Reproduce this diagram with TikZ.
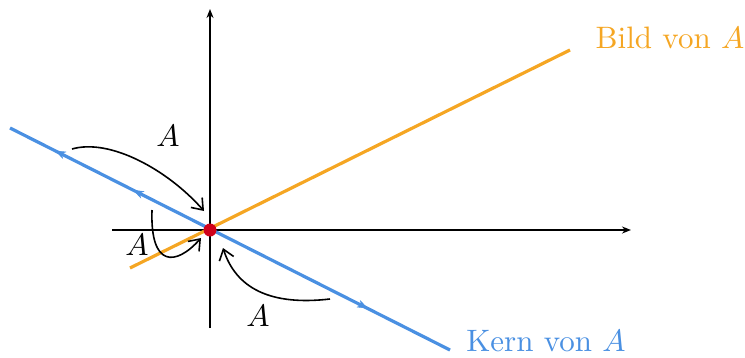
\documentclass[tikz,border=0pt]{standalone}
\usetikzlibrary{arrows.meta}
\definecolor{bildc}{HTML}{F5A623}
\definecolor{kernc}{HTML}{4A90E2}
\definecolor{dotc}{HTML}{D0021B}
\begin{document}
\begin{tikzpicture}[x=1pt,y=-1pt,
  axis/.style={line width=1.5pt,-{Stealth[length=9pt,width=7pt]}},
  mapto/.style={line width=1.6pt,-{Straight Barb[length=10pt,width=15pt,line width=1.6pt]}},
  lbl/.style={font=\fontsize{10}{12}\selectfont, inner sep=0pt, scale=3.1},
  tlbl/.style={font=\fontsize{10}{12}\selectfont, inner sep=0pt, scale=3.1},
  midarrow/.style={kernc,-{Stealth[length=11pt,width=8pt]}}]
\useasboundingbox (0,0) rectangle (745,357);
\coordinate (O) at (210,230);
% axes
\coordinate (xs) at (112,230); \coordinate (xe) at (631,230);
\coordinate (ys) at (210,328); \coordinate (ye) at (210,9);
\draw[axis] (xs) -- (xe);
\draw[axis] (ys) -- (ye);
% lines
\coordinate (k1) at (10,128); \coordinate (k2) at (450,350);
\coordinate (b1) at (130,268); \coordinate (b2) at (570,50);
\draw[kernc, line width=3.2pt] (k1) -- (k2);
\draw[bildc, line width=3.2pt] (b1) -- (b2);
% arrows on kernel line
\coordinate (m1s) at (70,158); \coordinate (m1e) at (55,150.5);
\coordinate (m2s) at (150,198.5); \coordinate (m2e) at (133,190);
\coordinate (m3s) at (350,299.5); \coordinate (m3e) at (368,308.5);
\draw[midarrow] (m1s) -- (m1e);
\draw[midarrow] (m2s) -- (m2e);
\draw[midarrow] (m3s) -- (m3e);
% red dot
\fill[dotc] (O) circle (6.5pt);
% mapping arrows
\coordinate (c1s) at (72,149); \coordinate (c1e) at (204,211);
\coordinate (c2s) at (152,210); \coordinate (c2e) at (201,238);
\coordinate (c3s) at (330,299); \coordinate (c3e) at (223,248);
\draw[mapto] (c1s) .. controls (110,138) and (168,170) .. (c1e);
\draw[mapto] (c2s) .. controls (150,268) and (176,266) .. (c2e);
\draw[mapto] (c3s) .. controls (270,306) and (236,288) .. (c3e);
% labels
\node[lbl] (a1) at (168,136) {$A$};
\node[lbl] (a2) at (137,245) {$A$};
\node[lbl] (a3) at (258,316) {$A$};
\node[tlbl, text=bildc] (bild) at (670,38) {Bild von $A$};
\node[tlbl, text=kernc] (kern) at (546,341) {Kern von $A$};
\end{tikzpicture}
\end{document}
